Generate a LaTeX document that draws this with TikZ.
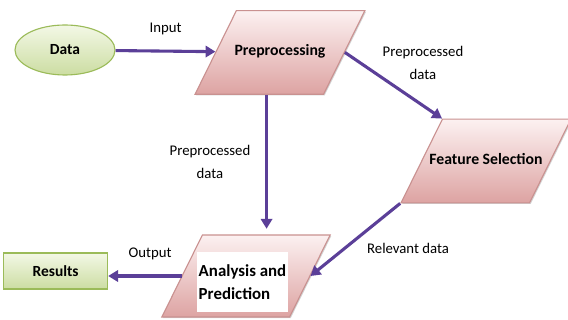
\documentclass[tikz,border=0pt]{standalone}
\usepackage{fontspec}
\setmainfont{Carlito}
\usepackage{tikz}
\usetikzlibrary{
	arrows.meta,
	positioning,
	shapes.geometric,
	shadows
}
\usepackage{xcolor}

\definecolor{flowpurple}{HTML}{5B3F98}
\definecolor{procborder}{HTML}{C99190}
\definecolor{proctop}{HTML}{FCF1F1}
\definecolor{procbottom}{HTML}{DDA3A2}
\definecolor{greenborder}{HTML}{9BBB59}
\definecolor{greentop}{HTML}{F3F8E6}
\definecolor{greenbottom}{HTML}{CCDDA2}

% body width of the slanted boxes
\newcommand{\procbody}[1]{\makebox[62pt]{#1}}

\tikzset{
	proc/.style={trapezium, trapezium left angle=63.7, trapezium right angle=116.3,
		inner xsep=0pt, inner ysep=24.75pt, text height=7.5pt, text depth=2.5pt,
		draw=procborder, thick, top color=proctop, bottom color=procbottom,
		drop shadow={opacity=0.35, shadow xshift=0.8pt, shadow yshift=-0.8pt},
		font=\fontsize{11.2}{16}\selectfont\bfseries},
	greenbox/.style={draw=greenborder, thick, top color=greentop, bottom color=greenbottom,
		font=\fontsize{11}{16}\selectfont\bfseries},
	flow/.style={-{Triangle[length=7pt,width=8pt]}, line width=2.2pt, flowpurple},
	lbl/.style={align=center, text=black, font=\fontsize{10.5}{16.3}\selectfont}
}

\begin{document}
\begin{tikzpicture}
		
		\useasboundingbox (0,0) rectangle (14.2,8);
		
		% Shapes
		\node[greenbox, ellipse, minimum width=2.5cm, minimum height=1.25cm] (Data) at (1.625,6.75) {Data};
		\node[proc] (Preprocessing) at (7.0,6.69) {\procbody{Preprocessing}};
		\node[proc] (Feature) at (12.15,3.975) {\procbody{Feature Selection}};
		\node[proc, text height=28.5pt, text depth=13.9pt, inner ysep=8pt,
		font=\fontsize{12}{16.3}\selectfont\bfseries] (Analysis) at (6.15,1.1)
		{\procbody{\setlength{\fboxsep}{0pt}\colorbox{white}{\begin{tabular}{@{\hspace{1.5pt}}l@{\hspace{1.5pt}}}
		\rule{0pt}{17pt}Analysis and\\Prediction\rule[-9pt]{0pt}{9pt}\end{tabular}}\hspace*{5pt}}};
		\node[greenbox, rectangle, minimum width=2.6cm, minimum height=0.9cm] (Results) at (1.39,1.225) {Results};
		
		% Connectors
		\draw[flow] (Data) -- (Preprocessing)
		node[lbl, midway, above=7pt] {Input};
		\draw[flow] (Preprocessing.east) -- (Feature.top left corner);
		\draw[flow] (Analysis.top side |- Preprocessing.bottom side) -- ([yshift=4pt]Analysis.top side);
		\draw[flow] (Analysis.west) -- (Analysis.west -| Results.east);
		\draw[flow] (Feature.bottom left corner) -- (Analysis.east);
		
		% Labels
		\node[lbl] at (10.575,6.425) {Preprocessed\\data};
		\node[lbl] at (5.25,3.95) {Preprocessed\\data};
		\node[lbl] at (3.75,1.65) {Output};
		\node[lbl] at (10.2,1.8) {Relevant data};
		
	\end{tikzpicture}
\end{document}
